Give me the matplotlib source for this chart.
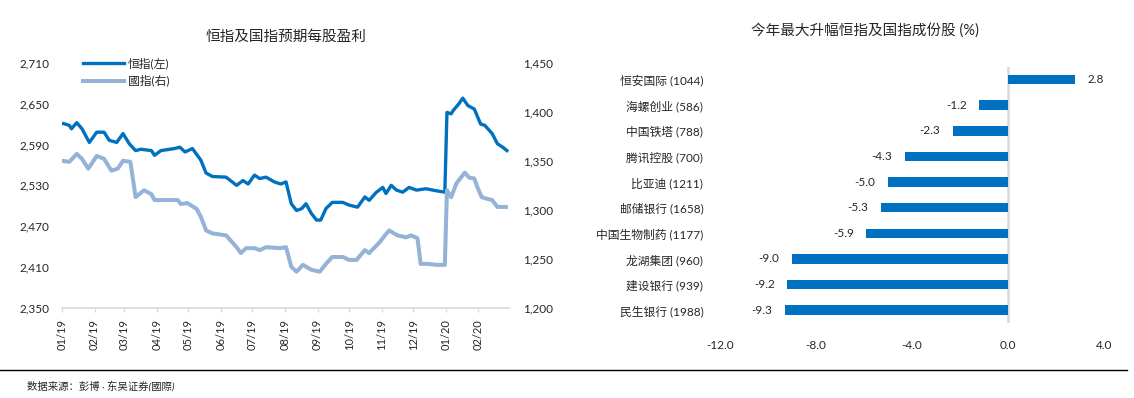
import matplotlib
matplotlib.use("Agg")
import matplotlib.pyplot as plt
import matplotlib.dates as mdates
from matplotlib.ticker import FuncFormatter, FixedLocator
import pandas as pd
import numpy as np

plt.rcParams['font.family'] = ['Lato', 'Noto Sans CJK SC', 'DejaVu Sans']

# ---------------- data ----------------
hsi_dates = ['2019-01-01','2019-01-04','2019-01-08','2019-01-10','2019-01-15','2019-01-20','2019-01-27',
             '2019-02-03','2019-02-10','2019-02-15','2019-02-22','2019-02-28',
             '2019-03-06','2019-03-12','2019-03-17','2019-03-27','2019-03-30',
             '2019-04-05','2019-04-18','2019-04-23','2019-04-28',
             '2019-05-05','2019-05-13','2019-05-18','2019-05-24',
             '2019-06-06','2019-06-16','2019-06-22','2019-06-27',
             '2019-07-03','2019-07-08','2019-07-14','2019-07-22','2019-07-28',
             '2019-08-02','2019-08-07','2019-08-12','2019-08-17','2019-08-21','2019-08-26','2019-08-31',
             '2019-09-04','2019-09-09','2019-09-15','2019-09-25',
             '2019-10-01','2019-10-09','2019-10-16','2019-10-20','2019-10-27',
             '2019-11-02','2019-11-05','2019-11-10','2019-11-15','2019-11-21','2019-11-27',
             '2019-12-04','2019-12-13','2019-12-23','2019-12-31',
             '2020-01-02','2020-01-06','2020-01-08','2020-01-13','2020-01-17','2020-01-22','2020-01-28',
             '2020-02-03','2020-02-07','2020-02-14','2020-02-19','2020-02-24','2020-02-28']
hsi_eps = [2621,2620,2618,2613,2622,2613,2593,
           2608,2608,2596,2593,2606,
           2591,2581,2583,2581,2574,
           2581,2584,2586,2579,
           2584,2567,2548,2543,
           2542,2530,2537,2532,
           2545,2540,2542,2535,2532,
           2535,2503,2493,2496,2503,2489,2479,
           2479,2496,2505,2505,
           2501,2498,2513,2508,2520,
           2527,2518,2530,2523,2520,2527,
           2523,2525,2522,2520,
           2637,2635,2640,2649,2658,2647,2642,
           2620,2618,2606,2591,2586,2581]

hscei_dates = ['2019-01-01','2019-01-08','2019-01-15','2019-01-20','2019-01-26',
               '2019-02-03','2019-02-10','2019-02-17','2019-02-23','2019-02-28',
               '2019-03-07','2019-03-12','2019-03-20','2019-03-27','2019-03-30',
               '2019-04-11','2019-04-21','2019-04-24','2019-04-30',
               '2019-05-09','2019-05-13','2019-05-18','2019-05-24',
               '2019-06-06','2019-06-16','2019-06-20','2019-06-25',
               '2019-07-03','2019-07-08','2019-07-14','2019-07-27',
               '2019-08-02','2019-08-07','2019-08-12','2019-08-18','2019-08-26',
               '2019-09-03','2019-09-09','2019-09-15','2019-09-25',
               '2019-10-01','2019-10-08','2019-10-16','2019-10-20','2019-10-30',
               '2019-11-04','2019-11-08','2019-11-16','2019-11-24','2019-11-29',
               '2019-12-05','2019-12-08','2019-12-15','2019-12-23','2019-12-31',
               '2020-01-02','2020-01-06','2020-01-11','2020-01-19','2020-01-23','2020-01-28','2020-01-31',
               '2020-02-04','2020-02-10','2020-02-14','2020-02-19','2020-02-27']
hscei_eps = [1350,1349,1357,1352,1342,
             1355,1352,1340,1342,1350,
             1349,1313,1320,1316,1310,
             1310,1310,1306,1307,
             1301,1293,1279,1276,
             1274,1262,1256,1261,
             1261,1259,1262,1261,
             1262,1242,1237,1244,1239,
             1237,1245,1252,1252,
             1249,1249,1259,1256,1267,
             1274,1279,1274,1272,1274,
             1271,1245,1245,1244,1244,
             1320,1313,1327,1338,1333,1332,1323,
             1313,1311,1310,1303,1303]

month_ticks = ['2019-01-01','2019-02-01','2019-03-01','2019-04-01','2019-05-01','2019-06-01','2019-07-01',
               '2019-08-01','2019-09-01','2019-10-01','2019-11-01','2019-12-01','2020-01-01','2020-02-01']
left_ticks = [2350, 2410, 2470, 2530, 2590, 2650, 2710]
right_ticks = [1200, 1250, 1300, 1350, 1400, 1450]

stocks = ['恒安国际 (1044)', '海螺创业 (586)', '中国铁塔 (788)', '腾讯控股 (700)', '比亚迪 (1211)',
          '邮储银行 (1658)', '中国生物制药 (1177)', '龙湖集团 (960)', '建设银行 (939)', '民生银行 (1988)']
changes = [2.8, -1.2, -2.3, -4.3, -5.0, -5.3, -5.9, -9.0, -9.2, -9.3]
bar_ticks = [-12.0, -8.0, -4.0, 0.0, 4.0]

DARK = '#0070C0'
LIGHT = '#95B3D7'
TXT = '#262626'
GRID = '#D9D9D9'

W, H = 1134, 398
fig = plt.figure(figsize=(W / 100, H / 100), dpi=100)

def px_axes(x0, y0, x1, y1):
    return fig.add_axes([x0 / W, 1 - y1 / H, (x1 - x0) / W, (y1 - y0) / H])

# ---------------- left chart ----------------
ax = px_axes(62, 62.7, 509, 308)
ax2 = ax.twinx()
d1 = pd.to_datetime(hsi_dates)
d2 = pd.to_datetime(hscei_dates)
l1, = ax.plot(d1, hsi_eps, color=DARK, lw=2.4, solid_joinstyle='round', label='恒指(左)')
l2, = ax2.plot(d2, hscei_eps, color=LIGHT, lw=2.9, solid_joinstyle='round', label='國指(右)')

ax.set_xlim(pd.Timestamp('2019-01-01'), pd.Timestamp('2020-03-01'))
ax.set_ylim(2350, 2710)
ax2.set_ylim(1200, 1450)
ax.set_yticks(left_ticks)
ax2.set_yticks(right_ticks)
fmt = FuncFormatter(lambda v, p: f'{v:,.0f}')
ax.yaxis.set_major_formatter(fmt)
ax2.yaxis.set_major_formatter(fmt)
ax.set_xticks(pd.to_datetime(month_ticks))
ax.xaxis.set_major_formatter(mdates.DateFormatter('%m/%y'))
for s in ['top', 'left', 'right']:
    ax.spines[s].set_visible(False)
    ax2.spines[s].set_visible(False)
ax2.spines['bottom'].set_visible(False)
ax.spines['bottom'].set_color(GRID)
ax.spines['bottom'].set_linewidth(1.2)
ax.tick_params(axis='x', length=3, color=GRID, width=1, pad=5, labelsize=8, labelcolor=TXT, labelrotation=90)
ax.tick_params(axis='y', length=0, pad=9, labelsize=8.5, labelcolor=TXT)
ax2.tick_params(axis='y', length=0, pad=10, labelsize=8.5, labelcolor=TXT)
ax.set_title('恒指及国指预期每股盈利', fontsize=10.5, color=TXT, pad=16)

leg = ax2.legend(handles=[l1, l2], loc='upper left', bbox_to_anchor=(0.046, 1.02),
                 frameon=False, fontsize=8.5, handlelength=3.5, handletextpad=0.35,
                 labelspacing=0.45, borderpad=0, borderaxespad=0)
for t in leg.get_texts():
    t.set_color(TXT)

# ---------------- right chart ----------------
bx = px_axes(720, 66.7, 1104, 323)
ypos = np.arange(len(stocks))
bx.barh(ypos, changes, height=0.37, color=DARK, zorder=2)
bx.set_xlim(-12, 4)
bx.set_ylim(len(stocks) - 0.5, -0.5)
bx.set_yticks(ypos)
bx.set_yticklabels(stocks)
bx.xaxis.set_major_locator(FixedLocator(bar_ticks))
bx.xaxis.set_major_formatter(FuncFormatter(lambda v, p: f'{v:.1f}'))
for s in bx.spines.values():
    s.set_visible(False)
bx.axvline(0, color=GRID, lw=1.8, zorder=1)
bx.tick_params(axis='y', length=0, pad=12, labelsize=8.5, labelcolor=TXT)
bx.tick_params(axis='x', length=0, pad=12, labelsize=8.5, labelcolor=TXT)
for y, v in zip(ypos, changes):
    off = 9 if v >= 0 else -9
    bx.annotate(f'{v:.1f}', (v, y), xytext=(off, 0), textcoords='offset points',
                ha='left' if v >= 0 else 'right', va='center', fontsize=8.5, color=TXT)
fig.text(865 / W, 1 - 30 / H, '今年最大升幅恒指及国指成份股 (%)', ha='center', va='center',
         fontsize=10.5, color=TXT)

# ---------------- footer ----------------
fig.add_artist(plt.Line2D([0, 1127 / W], [1 - 370 / H, 1 - 370 / H], color='black', lw=1.0))
fig.text(27 / W, 1 - 386 / H, '数据来源：彭博 · 东吴证券(國際)', ha='left', va='center',
         fontsize=7.5, color=TXT, style='italic')

fig.savefig('out.png', dpi=100)
